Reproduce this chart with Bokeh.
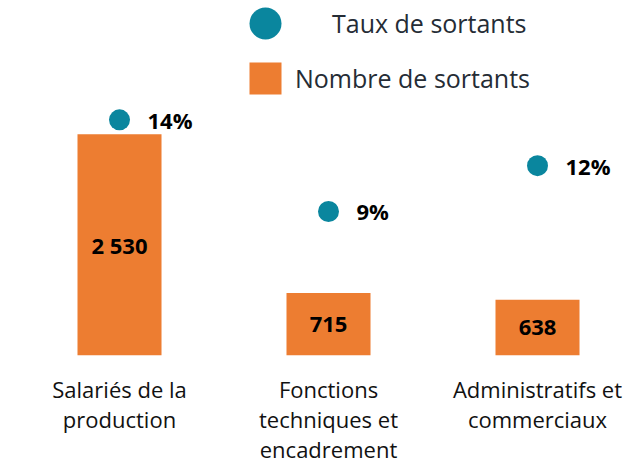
from bokeh.plotting import figure
from bokeh.models import (ColumnDataSource, Range1d, FixedTicker, Legend, LegendItem)
from bokeh.embed import file_html
from bokeh.resources import INLINE
from bokeh.core.properties import value

# ---- data ----
categories = ["Salariés de la\nproduction", "Fonctions\ntechniques et\nencadrement",
              "Administratifs et\ncommerciaux"]
nombre = [2530, 715, 638]
taux = [14.4, 8.8, 11.6]
nombre_labels = ["2 530", "715", "638"]
taux_labels = ["{:.0f}%".format(t) for t in taux]

ORANGE = "#ED7D31"
TEAL = "#0A869E"
FONT = "Open Sans"

xs = list(range(len(categories)))
src = ColumnDataSource(dict(
    x=xs, nombre=nombre, mid=[n / 2 for n in nombre], nlab=nombre_labels,
    taux=taux, tlab=taux_labels,
))

p = figure(width=634, height=466, output_backend="svg", toolbar_location=None,
           x_range=Range1d(-0.5694, 2.4641), y_range=Range1d(0, 4059),
           min_border_left=0, min_border_right=0, min_border_top=0,
           min_border_bottom=110)
p.extra_y_ranges = {"pct": Range1d(0, 21.69)}
p.outline_line_color = None
p.xgrid.visible = False
p.ygrid.visible = False
p.yaxis.visible = False

bars = p.vbar(x="x", top="nombre", width=0.402, source=src, fill_color=ORANGE,
              line_color=None)
p.text(x="x", y="mid", text="nlab", source=src, text_align="center",
       text_baseline="middle", text_font=value(FONT), text_font_style="bold",
       text_font_size="22px", text_color="#000000")

dots = p.scatter(x="x", y="taux", size=21, source=src, fill_color=TEAL,
                 line_color=None, y_range_name="pct")
p.text(x="x", y="taux", text="tlab", source=src, y_range_name="pct",
       x_offset=28, text_align="left", text_baseline="middle",
       text_font=value(FONT), text_font_style="bold", text_font_size="22px",
       text_color="#000000")

ax = p.xaxis[0]
ax.ticker = FixedTicker(ticks=xs)
ax.major_label_overrides = {i: c for i, c in zip(xs, categories)}
ax.axis_line_color = None
ax.major_tick_line_color = None
ax.minor_tick_line_color = None
ax.major_tick_out = 0
ax.major_tick_in = 0
ax.major_label_standoff = 18
ax.major_label_text_font = FONT
ax.major_label_text_font_size = "22px"
ax.major_label_text_color = "#111111"
ax.major_label_text_line_height = 1.0

leg_circ = Legend(items=[LegendItem(label="Taux de sortants", renderers=[dots])],
                  location=(225, 292), glyph_width=80, glyph_height=80,
                  label_standoff=27, padding=0, margin=0, spacing=0,
                  border_line_alpha=0, background_fill_alpha=0,
                  label_text_font=FONT, label_text_font_size="25px",
                  label_text_color="#252c35")
leg_bar = Legend(items=[LegendItem(label="Nombre de sortants", renderers=[bars])],
                 location=(245, 257), glyph_width=40, glyph_height=40,
                 label_standoff=10, padding=0, margin=0, spacing=0,
                 border_line_alpha=0, background_fill_alpha=0,
                 label_text_font=FONT, label_text_font_size="25px",
                 label_text_color="#252c35")
p.add_layout(leg_circ, "center")
p.add_layout(leg_bar, "center")

open("out.html", "w").write(file_html(p, INLINE))
